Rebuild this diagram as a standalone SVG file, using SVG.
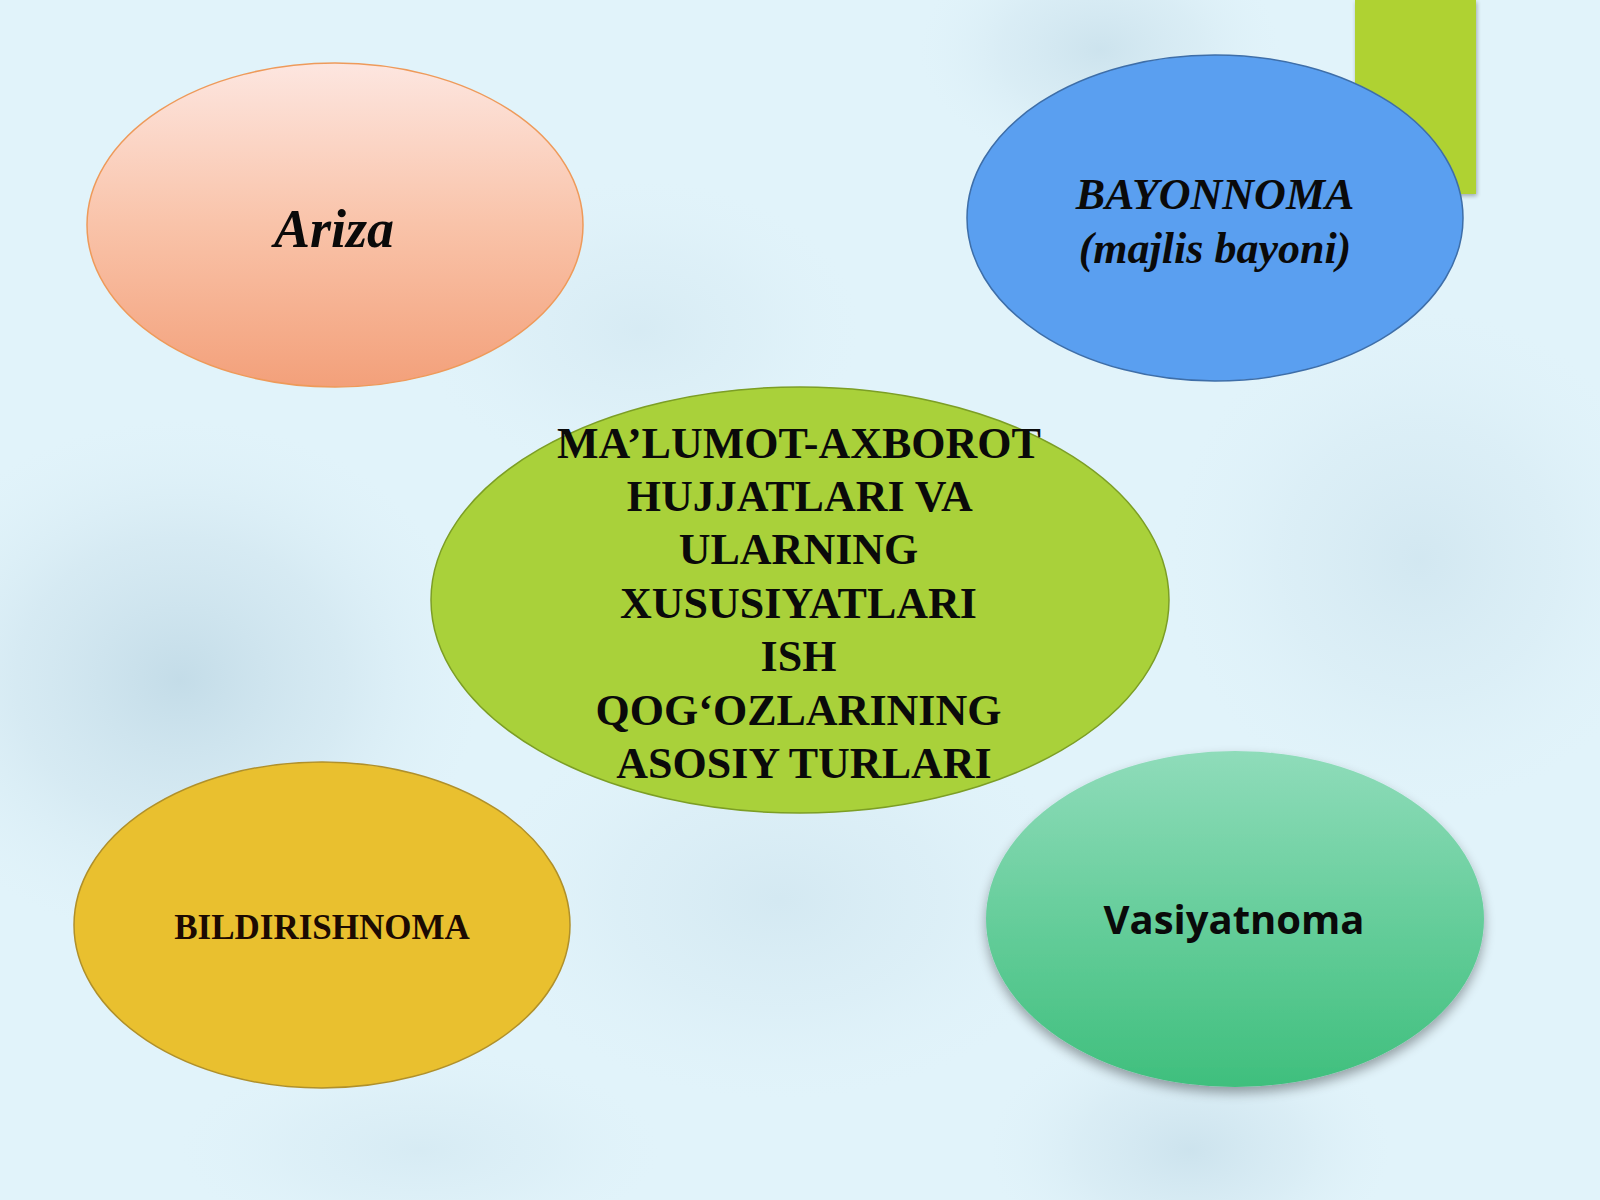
<svg xmlns="http://www.w3.org/2000/svg" width="1600" height="1200" viewBox="0 0 1600 1200">
<defs>
<radialGradient id="blob"><stop offset="0" stop-color="#b0cddc" stop-opacity="0.6"/><stop offset="0.55" stop-color="#c2dae6" stop-opacity="0.35"/><stop offset="1" stop-color="#d6ebf3" stop-opacity="0"/></radialGradient>
<linearGradient id="gAriza" x1="0" y1="0" x2="0" y2="1"><stop offset="0" stop-color="#fde6e0"/><stop offset="0.5" stop-color="#f9c3a9"/><stop offset="1" stop-color="#f3a07a"/></linearGradient>
<linearGradient id="gVas" x1="0" y1="0" x2="0" y2="1"><stop offset="0" stop-color="#8fdcba"/><stop offset="0.55" stop-color="#62cc98"/><stop offset="1" stop-color="#3fbf7d"/></linearGradient>
<filter id="shadow" x="-20%" y="-20%" width="140%" height="150%"><feGaussianBlur in="SourceAlpha" stdDeviation="6"/><feOffset dx="0" dy="6"/><feComponentTransfer><feFuncA type="linear" slope="0.35"/></feComponentTransfer><feMerge><feMergeNode/><feMergeNode in="SourceGraphic"/></feMerge></filter>
<filter id="rshadow" x="-20%" y="-10%" width="140%" height="120%"><feGaussianBlur in="SourceAlpha" stdDeviation="2"/><feOffset dx="1" dy="2"/><feComponentTransfer><feFuncA type="linear" slope="0.3"/></feComponentTransfer><feMerge><feMergeNode/><feMergeNode in="SourceGraphic"/></feMerge></filter>
</defs>
<style>
.serif{font-family:"Liberation Serif","Times New Roman",serif;font-weight:bold;fill:#0a0a0a;text-anchor:middle}
.it{font-style:italic}
.sans{font-family:"Open Sans","Noto Sans",sans-serif;font-weight:bold;fill:#0a0a0a;text-anchor:middle}
</style>
<rect width="1600" height="1200" fill="#e1f3fa"/>
<g id="background">
<ellipse cx="180" cy="680" rx="300" ry="260" fill="url(#blob)"/>
<ellipse cx="1100" cy="50" rx="180" ry="120" fill="url(#blob)" opacity="0.7"/>
<ellipse cx="1190" cy="1150" rx="200" ry="130" fill="url(#blob)" opacity="0.7"/>
<ellipse cx="1420" cy="560" rx="250" ry="250" fill="url(#blob)" opacity="0.5"/>
<ellipse cx="780" cy="900" rx="300" ry="200" fill="url(#blob)" opacity="0.45"/>
<ellipse cx="640" cy="330" rx="220" ry="150" fill="url(#blob)" opacity="0.35"/>
<ellipse cx="420" cy="1150" rx="240" ry="100" fill="url(#blob)" opacity="0.35"/>
</g>
<rect id="accent" x="1355" y="0" width="121" height="194" fill="#afd232" filter="url(#rshadow)"/>
<g id="connectors"></g>
<g id="node-ariza">
<ellipse cx="335" cy="225" rx="248" ry="162" fill="url(#gAriza)" stroke="#ee9a5a" stroke-width="1.5"/>
<text class="serif it" x="334" y="247" font-size="54">Ariza</text>
</g>
<g id="node-bayonnoma">
<ellipse cx="1215" cy="218" rx="248" ry="163" fill="#5a9ff0" stroke="#3e6ea8" stroke-width="1.5"/>
<text class="serif it" x="1215" y="209" font-size="44">BAYONNOMA</text>
<text class="serif it" x="1215" y="263" font-size="44">(majlis bayoni)</text>
</g>
<g id="node-center">
<ellipse cx="800" cy="600" rx="369" ry="213" fill="#a9d13a" stroke="#7c9e25" stroke-width="1.5"/>
<text class="serif" font-size="44">
<tspan x="804" y="458">MA’LUMOT-AXBOROT</tspan>
<tspan x="804" y="511">HUJJATLARI VA</tspan>
<tspan x="804" y="564">ULARNING</tspan>
<tspan x="804" y="618">XUSUSIYATLARI</tspan>
<tspan x="804" y="671">ISH</tspan>
<tspan x="804" y="725">QOG‘OZLARINING</tspan>
<tspan x="804" y="778">ASOSIY TURLARI</tspan>
</text>
</g>
<g id="node-bildirishnoma">
<ellipse cx="322" cy="925" rx="248" ry="163" fill="#e9c02f" stroke="#b0902a" stroke-width="1.5"/>
<text class="serif" x="322" y="939" font-size="35" style="fill:#1c0a02">BILDIRISHNOMA</text>
</g>
<g id="node-vasiyatnoma">
<ellipse cx="1235" cy="919" rx="249" ry="168" fill="url(#gVas)" filter="url(#shadow)"/>
<text class="sans" x="1234" y="934" font-size="40">Vasiyatnoma</text>
</g>
</svg>
